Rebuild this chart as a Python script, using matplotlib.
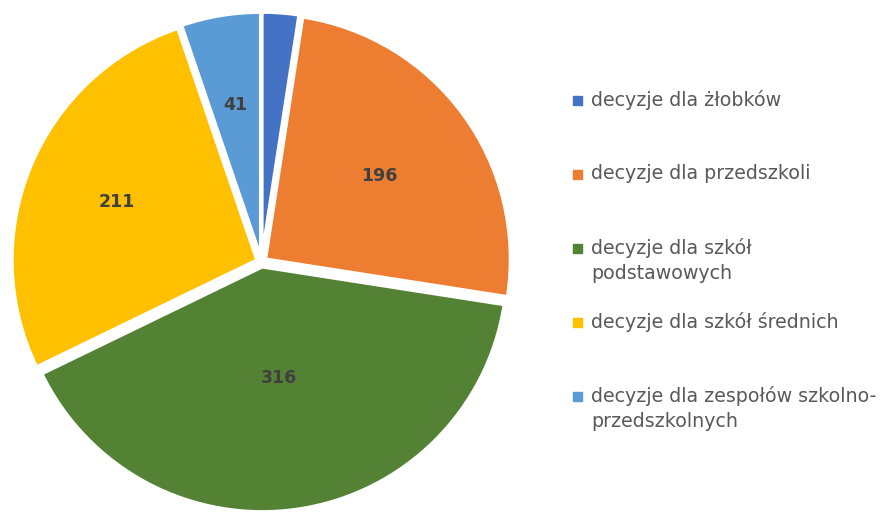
import matplotlib
matplotlib.use("Agg")

import numpy as np
import matplotlib.pyplot as plt
from matplotlib.patches import Rectangle

# ---------------------------------------------------------------------------
# Data
# ---------------------------------------------------------------------------
CATEGORIES = [
    "decyzje dla żłobków",
    "decyzje dla przedszkoli",
    "decyzje dla szkół\npodstawowych",
    "decyzje dla szkół średnich",
    "decyzje dla zespołów szkolno-\nprzedszkolnych",
]
VALUES = [19, 196, 316, 211, 41]
SHOW_LABEL = [False, True, True, True, True]

# ---------------------------------------------------------------------------
# Style
# ---------------------------------------------------------------------------
COLORS = ["#4472C4", "#ED7D31", "#548235", "#FFC000", "#5B9BD5"]
LABEL_DIST = [0.6, 0.575, 0.46, 0.62, 0.63]
TEXT_GRAY = "#595959"
LABEL_GRAY = "#404040"

W, H = 884, 512
fig = plt.figure(figsize=(W / 100, H / 100), dpi=100)

# pie axes: square box of 520 px centred at (261.5, 262 from top)
box = 520
ax = fig.add_axes([(261.5 - box / 2) / W, (H - 262 - box / 2) / H, box / W, box / H])

wedges, _ = ax.pie(
    VALUES, colors=COLORS, startangle=90, counterclock=False,
    explode=[0.02] * len(VALUES), radius=1.0,
    wedgeprops=dict(edgecolor="white", linewidth=2.5),
)
lim = box / 2 / 245
ax.set_xlim(-lim, lim)
ax.set_ylim(-lim, lim)
ax.set_aspect("equal")
ax.axis("off")

for w, val, show, dist in zip(wedges, VALUES, SHOW_LABEL, LABEL_DIST):
    if not show:
        continue
    ang = np.deg2rad((w.theta1 + w.theta2) / 2)
    cx, cy = w.center
    ax.text(cx + dist * np.cos(ang), cy + dist * np.sin(ang), str(val),
            ha="center", va="center", fontsize=12.5, fontweight="bold",
            color=LABEL_GRAY)

# legend drawn by hand so the marker sits on the first line
leg_x, text_x = 573 / W, 591 / W
y0, dy = 100, 74
for i, (lab, col) in enumerate(zip(CATEGORIES, COLORS)):
    yc = y0 + i * dy
    fig.patches.append(Rectangle((leg_x, 1 - (yc + 5) / H), 9 / W, 9 / H,
                                 transform=fig.transFigure, color=col))
    fig.text(text_x, 1 - (yc - 10) / H, lab, ha="left", va="top",
             fontsize=13.7, color=TEXT_GRAY, linespacing=1.4)

fig.savefig("out.png", dpi=100)
